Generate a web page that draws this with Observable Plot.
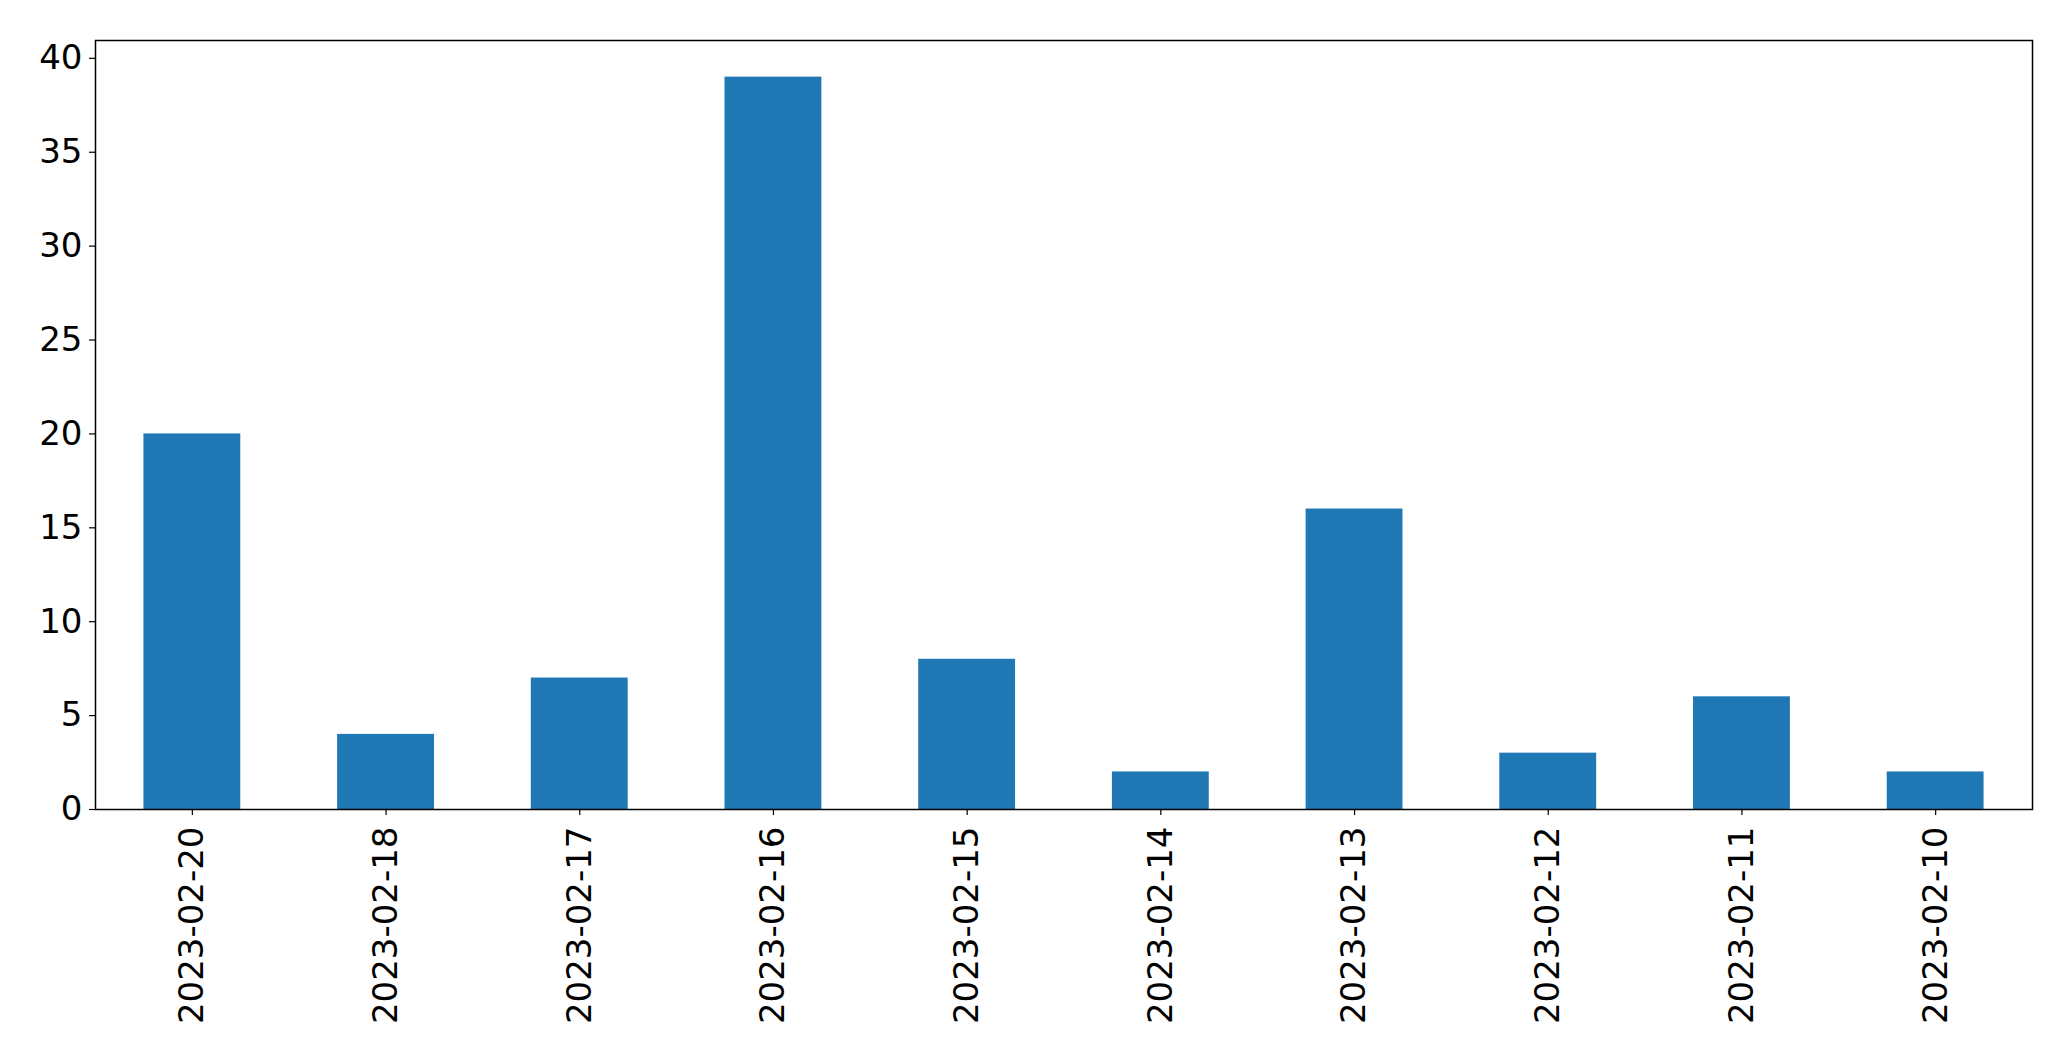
<!DOCTYPE html>
<html>
<head>
<meta charset="utf-8">
<script src="https://cdn.jsdelivr.net/npm/d3@7"></script>
<script src="https://cdn.jsdelivr.net/npm/@observablehq/plot@0.6"></script>
<style>
  html, body { margin: 0; padding: 0; background: #ffffff; }
  #chart { width: 2071px; height: 1061px; }
</style>
</head>
<body>
<div id="chart"></div>
<script>
const dates = ["2023-02-20", "2023-02-18", "2023-02-17", "2023-02-16", "2023-02-15",
               "2023-02-14", "2023-02-13", "2023-02-12", "2023-02-11", "2023-02-10"];
const counts = [20, 4, 7, 39, 8, 2, 16, 3, 6, 2];
const yTicks = [0, 5, 10, 15, 20, 25, 30, 35, 40];

const data = dates.map((d, i) => ({date: d, count: counts[i]}));

const chart = Plot.plot({
  width: 2071,
  height: 1061,
  marginLeft: 95,
  marginRight: 39,
  marginTop: 40,
  marginBottom: 252,
  style: {
    fontFamily: "'DejaVu Sans', sans-serif",
    fontSize: "34px",
    color: "black",
    background: "white",
    overflow: "visible"
  },
  x: {type: "band", domain: dates, paddingInner: 0.5, paddingOuter: 0.25, align: 0.5, round: false},
  y: {domain: [0, 40.95]},
  marks: [
    Plot.barY(data, {x: "date", y: "count", fill: "#1f77b4"}),
    Plot.axisY({ticks: yTicks, tickSize: 6, tickPadding: 7, label: null, fontSize: 34, strokeWidth: 1.2}),
    Plot.axisX({tickSize: 6, tickPadding: 11, tickRotate: -90, label: null, fontSize: 34, strokeWidth: 1.2}),
    Plot.frame({stroke: "black", strokeWidth: 1.5})
  ]
});
document.getElementById("chart").appendChild(chart);
</script>
</body>
</html>
